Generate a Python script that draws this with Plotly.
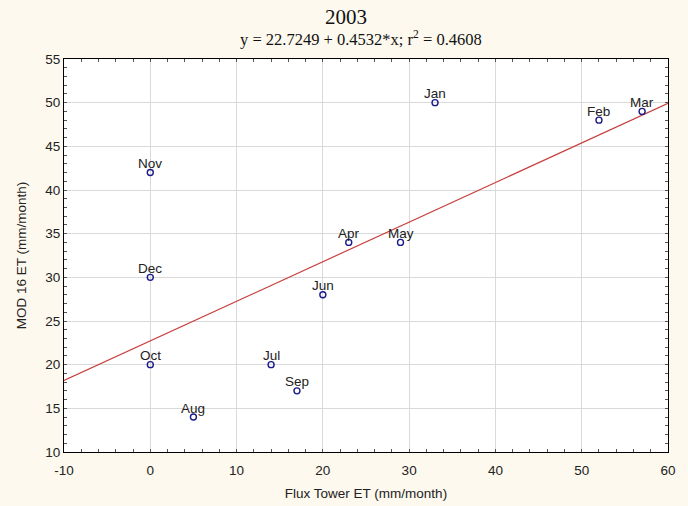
import plotly.graph_objects as go

# Monthly evapotranspiration, 2003
months = ["Jan", "Feb", "Mar", "Apr", "May", "Jun", "Jul", "Aug", "Sep", "Oct", "Nov", "Dec"]
flux_et = [33, 52, 57, 23, 29, 20, 14, 5, 17, 0, 0, 0]
mod16_et = [50, 48, 49, 34, 34, 28, 20, 14, 17, 20, 42, 30]

# Linear fit reported in the subtitle
intercept = 22.7249
slope = 0.4532
r2 = 0.4608
x_range = [-10, 60]
y_range = [10, 55]
x_ticks = list(range(-10, 61, 10))
y_ticks = list(range(10, 56, 5))

fit_x = x_range
fit_y = [intercept + slope * v for v in fit_x]

SANS = "Arial, Liberation Sans, sans-serif"
SERIF = "Times New Roman, Liberation Serif, serif"

fig = go.Figure()
fig.add_trace(go.Scatter(
    x=fit_x, y=fit_y, mode="lines",
    line=dict(color="#c8403f", width=1.2),
    hoverinfo="skip", showlegend=False,
))
fig.add_trace(go.Scatter(
    x=flux_et, y=mod16_et, mode="markers",
    marker=dict(symbol="circle-open", size=6, color="#1a1a8c", line=dict(width=1.4)),
    showlegend=False,
))

# Month labels sit just above their markers
for m, xv, yv in zip(months, flux_et, mod16_et):
    fig.add_annotation(
        x=xv, y=yv, text=m, showarrow=False,
        xanchor="center", yanchor="middle", yshift=9,
        font=dict(family=SANS, size=13.5, color="#222222"),
    )

axis_common = dict(
    showline=True, linecolor="#000000", linewidth=1, mirror="ticks",
    showgrid=True, gridcolor="#d9d9d9", gridwidth=1,
    zeroline=False, automargin=False,
    ticks="inside", ticklen=0, tickcolor="#000000",
    tickfont=dict(family=SANS, size=13.5, color="#222222"),
)

fig.update_xaxes(
    range=x_range, tickvals=x_ticks, ticktext=[str(v) for v in x_ticks],
    ticklabelstandoff=6,
    minor=dict(dtick=2, ticks="inside", ticklen=3, tickcolor="#555555", showgrid=False),
    title=dict(text="Flux Tower ET (mm/month)", standoff=11,
               font=dict(family=SANS, size=13.5, color="#222222")),
    **axis_common,
)
fig.update_yaxes(
    range=y_range, tickvals=y_ticks, ticktext=[str(v) for v in y_ticks],
    minor=dict(dtick=1, ticks="inside", ticklen=3, tickcolor="#555555", showgrid=False),
    title=dict(text="MOD 16 ET (mm/month)", standoff=15,
               font=dict(family=SANS, size=13.5, color="#222222")),
    **axis_common,
)

fig.add_annotation(
    text="2003", xref="paper", yref="paper", x=0.467, y=1.0, yshift=28,
    showarrow=False, xanchor="center", yanchor="bottom",
    font=dict(family=SERIF, size=21, color="#111111"),
)
fig.add_annotation(
    text=f"y = {intercept} + {slope}*x; r<sup>2</sup> = {r2}",
    xref="paper", yref="paper", x=0.492, y=1.0, yshift=8,
    showarrow=False, xanchor="center", yanchor="bottom",
    font=dict(family=SERIF, size=16.5, color="#111111"),
)

fig.update_layout(
    width=688, height=506,
    margin=dict(l=64, r=20, t=59, b=54),
    paper_bgcolor="#fdf9ee",
    plot_bgcolor="#ffffff",
)

fig.write_html("out.html")
